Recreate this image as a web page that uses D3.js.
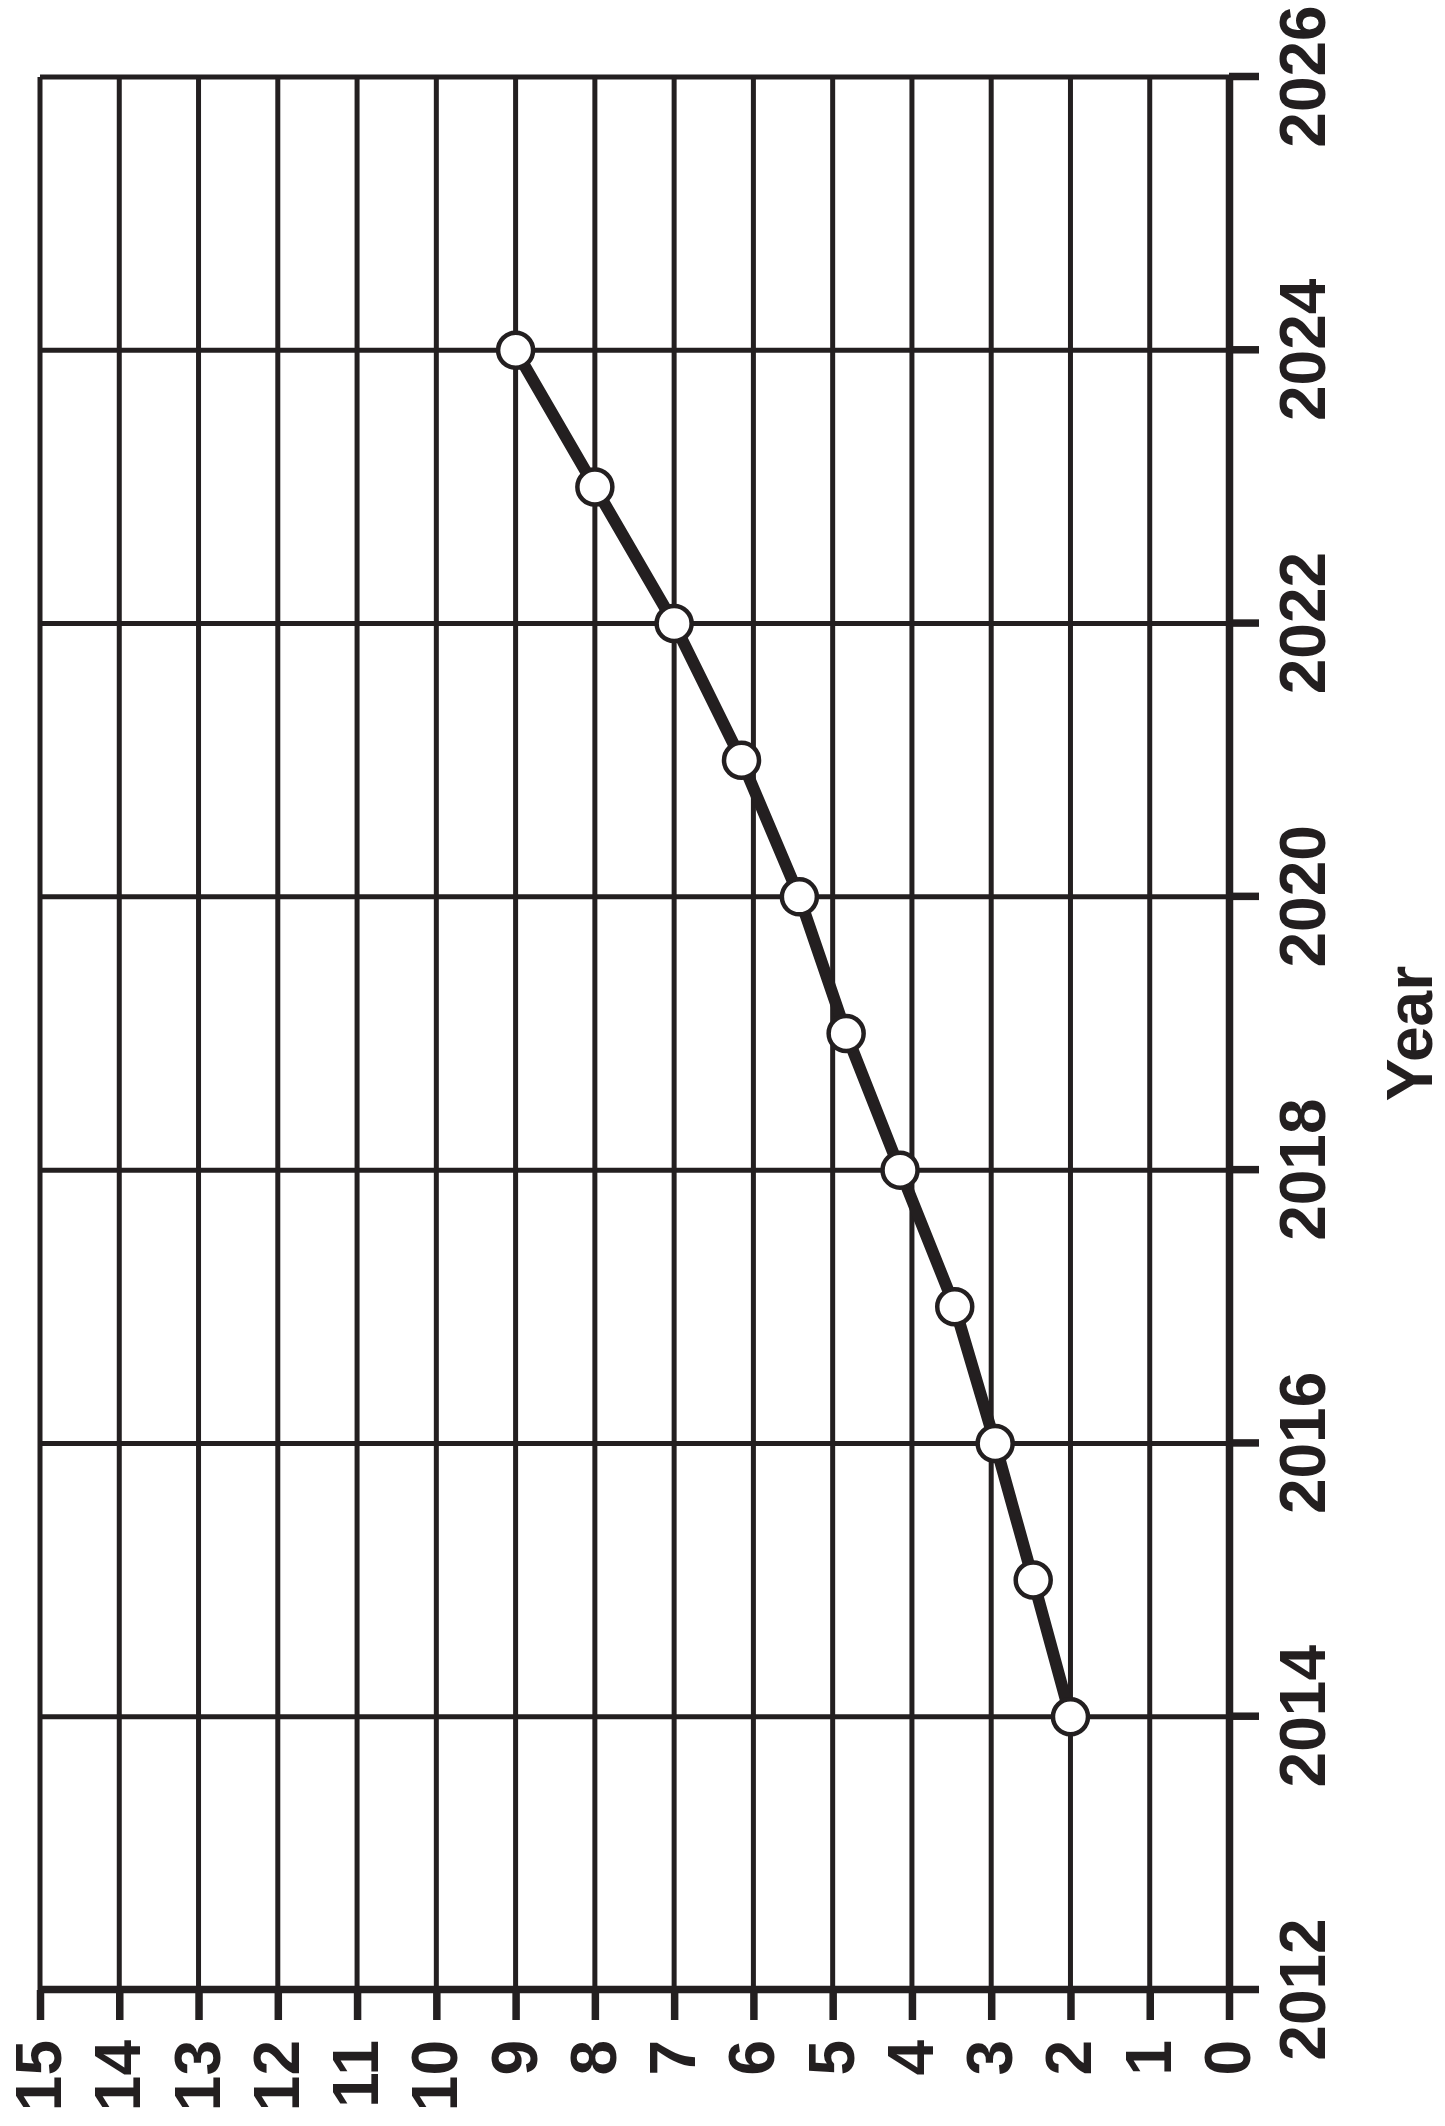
<!DOCTYPE html>
<html>
<head>
<meta charset="utf-8">
<script src="https://cdn.jsdelivr.net/npm/d3@7"></script>
<style>
  body { margin: 0; background: #fff; }
  svg text { font-family: "Liberation Sans", Arial, Helvetica, sans-serif; font-weight: bold; fill: #231f20; }
</style>
</head>
<body>
<div id="chart"></div>
<script>
'use strict';

// data
var years = [2014, 2015, 2016, 2017, 2018, 2019, 2020, 2021, 2022, 2023, 2024];
var values = [2, 2.47, 2.95, 3.46, 4.15, 4.83, 5.42, 6.15, 7, 8, 9];
var yearTicks = [2012, 2014, 2016, 2018, 2020, 2022, 2024, 2026];
var valueTicks = d3.range(0, 16);

var INK = "#231f20";
var W = 1445, H = 2126;

var svg = d3.select("#chart").append("svg")
    .attr("width", W)
    .attr("height", H);

// the whole chart is drawn upright, then turned a quarter turn
var g = svg.append("g")
    .attr("transform", "translate(0," + H + ") rotate(-90)");

var x = d3.scaleLinear().domain([2012, 2026]).range([136, 2049]);
var y = d3.scaleLinear().domain([0, 15]).range([1229, 40]);

// GRID

g.append("g").selectAll("line")
    .data(yearTicks.slice(1))
    .enter().append("line")
    .attr("x1", function(d) { return x(d) })
    .attr("x2", function(d) { return x(d) })
    .attr("y1", y(15))
    .attr("y2", y(0))
    .attr("stroke", INK)
    .attr("stroke-width", 5);

g.append("g").selectAll("line")
    .data(valueTicks.slice(1))
    .enter().append("line")
    .attr("x1", x(2012))
    .attr("x2", x(2026))
    .attr("y1", function(d) { return y(d) })
    .attr("y2", function(d) { return y(d) })
    .attr("stroke", INK)
    .attr("stroke-width", 5);

// AXES

var xAxis = d3.axisBottom(x)
    .tickValues(yearTicks)
    .tickFormat(d3.format("d"))
    .tickSizeInner(30)
    .tickSizeOuter(0)
    .tickPadding(21);

var yAxis = d3.axisLeft(y)
    .tickValues(valueTicks)
    .tickFormat(d3.format("d"))
    .tickSizeInner(30)
    .tickSizeOuter(0)
    .tickPadding(20);

var gx = g.append("g")
    .attr("transform", "translate(0," + y(0) + ")")
    .call(xAxis);

var gy = g.append("g")
    .attr("transform", "translate(" + x(2012) + ",0)")
    .call(yAxis);

[gx, gy].forEach(function(a) {
    a.selectAll("path.domain").attr("stroke", INK).attr("stroke-width", 7.5);
    a.selectAll(".tick line").attr("stroke", INK).attr("stroke-width", 7.5);
    a.selectAll(".tick text")
	.attr("font-size", 64)
	.style("font-family", "'Liberation Sans', Arial, sans-serif")
	.style("font-weight", "bold")
	.attr("fill", INK);
});

g.append("text")
    .attr("x", (x(2012) + x(2026)) / 2)
    .attr("y", 1432)
    .attr("text-anchor", "middle")
    .attr("font-size", 64)
    .text("Year");

// LINE + POINTS

var pts = years.map(function(d, i) { return [d, values[i]] });

g.append("path")
    .datum(pts)
    .attr("fill", "none")
    .attr("stroke", INK)
    .attr("stroke-width", 12)
    .attr("stroke-linejoin", "round")
    .attr("d", d3.line()
	  .x(function(d) { return x(d[0]) })
	  .y(function(d) { return y(d[1]) }));

g.append("g").selectAll("circle")
    .data(pts)
    .enter().append("circle")
    .attr("cx", function(d) { return x(d[0]) })
    .attr("cy", function(d) { return y(d[1]) })
    .attr("r", 17.5)
    .attr("fill", "#fff")
    .attr("stroke", INK)
    .attr("stroke-width", 4.5);
</script>
</body>
</html>
